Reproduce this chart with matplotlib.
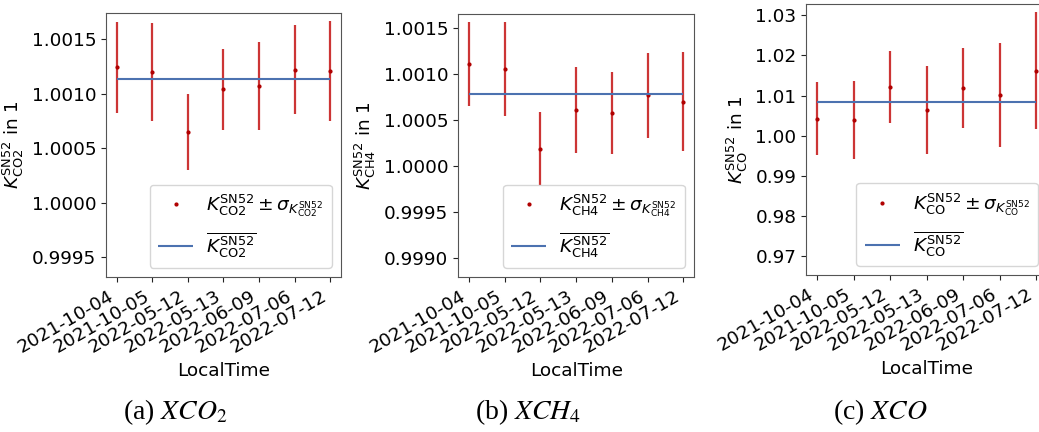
import matplotlib
matplotlib.use("Agg")
import matplotlib.pyplot as plt

dates = ["2021-10-04", "2021-10-05", "2022-05-12", "2022-05-13",
         "2022-06-09", "2022-07-06", "2022-07-12"]

k_co2 = [1.00124, 1.00120, 1.00065, 1.00104, 1.00107, 1.00122, 1.00121]
err_co2 = [0.00042, 0.00045, 0.00035, 0.00037, 0.00040, 0.00041, 0.00046]
mean_co2 = 1.00113

k_ch4 = [1.00111, 1.00106, 1.00019, 1.00061, 1.00058, 1.00077, 1.00070]
err_ch4 = [0.00046, 0.00051, 0.00040, 0.00047, 0.00045, 0.00046, 0.00054]
mean_ch4 = 1.00078

k_co = [1.00426, 1.00401, 1.01224, 1.00651, 1.01190, 1.01016, 1.01623]
err_co = [0.0091, 0.0097, 0.0090, 0.0110, 0.0099, 0.0130, 0.0145]
mean_co = 1.0085

gases = ["CO2", "CH4", "CO"]
captions = [r"(a) $XCO_2$", r"(b) $XCH_4$", r"(c) $XCO$"]
ylims = [(0.99932, 1.00174), (0.99879, 1.00166), (0.96534, 1.03284)]
yticks = [[0.9995, 1.0000, 1.0005, 1.0010, 1.0015],
          [0.9990, 0.9995, 1.0000, 1.0005, 1.0010, 1.0015],
          [0.97, 0.98, 0.99, 1.00, 1.01, 1.02, 1.03]]
ytickfmt = ["{:.4f}", "{:.4f}", "{:.2f}"]

plt.rcParams["font.size"] = 13.3
plt.rcParams["mathtext.fontset"] = "dejavusans"

fig = plt.figure(figsize=(10.39, 4.32), dpi=100)
positions = [[0.102, 0.359, 0.226, 0.611],
             [0.441, 0.359, 0.227, 0.609],
             [0.776, 0.363, 0.232, 0.628]]
caption_x = [175 / 1039, 528 / 1039, 880 / 1039]

series = [(k_co2, err_co2, mean_co2), (k_ch4, err_ch4, mean_ch4), (k_co, err_co, mean_co)]

for i, (vals, errs, mean) in enumerate(series):
    ax = fig.add_axes(positions[i])
    g = gases[i]
    x = list(range(len(dates)))
    kk = r"K^{\mathrm{SN52}}_{\mathrm{%s}}" % g
    ax.errorbar(x, vals, yerr=errs, fmt="none", ecolor="#cc3535",
                elinewidth=1.6, capsize=0)
    ax.plot(x, vals, ".", color="#b00000", markersize=4,
            label=r"$%s \pm \sigma_{%s}$" % (kk, kk))
    ax.hlines(mean, x[0], x[-1], color="#4c72b0", linewidth=1.5,
              label=r"$\overline{%s}$" % kk)
    ax.set_xticks(x)
    ax.set_xticklabels(dates, rotation=30, ha="right")
    ax.set_xlim(-0.3, 6.3)
    ax.set_ylim(*ylims[i])
    ax.set_yticks(yticks[i])
    ax.set_yticklabels([ytickfmt[i].format(v) for v in yticks[i]])
    ax.set_xlabel("LocalTime")
    ax.set_ylabel(r"$%s$ in 1" % kk)
    for s in ax.spines.values():
        s.set_color("#555555")
    ax.tick_params(colors="#222222", labelcolor="black")
    ax.legend(loc="lower right", handlelength=1.9, borderpad=0.45,
              handletextpad=0.7, labelspacing=0.6)
    fig.text(caption_x[i], 0.047, captions[i], ha="center", va="center",
             fontsize=20, family="Liberation Serif", math_fontfamily="stix")

fig.savefig("out.png", dpi=100)
